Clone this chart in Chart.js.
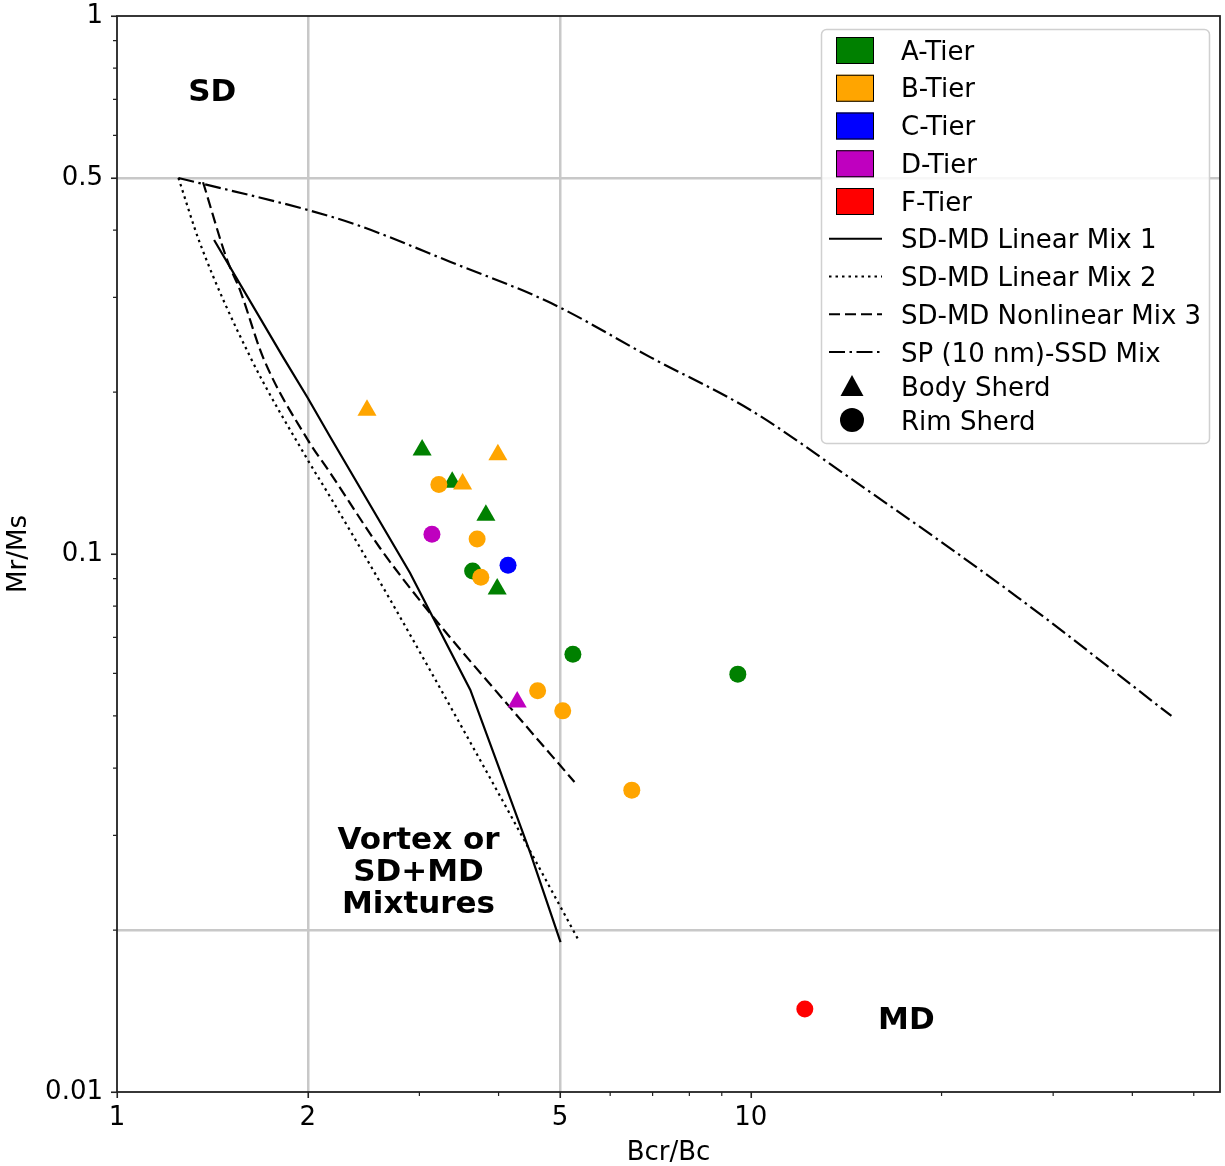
<!DOCTYPE html>
<html>
<head>
<meta charset="utf-8">
<title>Day plot</title>
<script src="https://cdn.jsdelivr.net/npm/chart.js@4.4.0/dist/chart.umd.min.js"></script>
<style>
  html, body { margin: 0; padding: 0; background: #fff; }
  #wrap { width: 1225px; height: 1166px; }
</style>
</head>
<body>
<div id="wrap"><canvas id="dayPlot" width="1225" height="1166"></canvas></div>
<script>
// values: x = Bcr/Bc, y = Mr/Ms
const tierNames = ['A-Tier', 'B-Tier', 'C-Tier', 'D-Tier', 'F-Tier'];
const tierColors = ['#008000', '#ffa500', '#0000ff', '#bf00bf', '#ff0000'];

const aTierBody = [[3.03, 0.156], [3.38, 0.136], [3.82, 0.118], [3.98, 0.0861]];
const aTierRim = [[3.64, 0.093], [5.24, 0.0651], [9.54, 0.0598]];
const bTierBody = [[2.48, 0.185], [3.99, 0.153], [3.51, 0.135]];
const bTierRim = [[3.22, 0.1347], [3.70, 0.1066], [3.75, 0.0905], [4.61, 0.0557], [5.05, 0.0511], [6.49, 0.0364]];
const cTierRim = [[4.14, 0.0953]];
const dTierBody = [[4.28, 0.0531]];
const dTierRim = [[3.14, 0.1088]];
const fTierRim = [[12.17, 0.01426]];

const curveNames = ['SD-MD Linear Mix 1', 'SD-MD Linear Mix 2', 'SD-MD Nonlinear Mix 3', 'SP (10 nm)-SSD Mix'];
const mix1X = [1.423, 1.829, 2.0, 2.17, 2.90, 3.61, 4.49, 5.01];
const mix1Y = [0.3835, 0.232, 0.195, 0.165, 0.0922, 0.0559, 0.0278, 0.0190];
const mix2X = [1.25, 1.352, 1.623, 2.0, 2.17, 2.70, 3.52, 4.22, 5.33];
const mix2Y = [0.5, 0.378, 0.2323, 0.1495, 0.1276, 0.0821, 0.0471, 0.032, 0.0193];
const mix3X = [1.367, 1.492, 1.564, 1.70, 2.0, 2.17, 2.60, 3.09, 4.18, 5.27];
const mix3Y = [0.491, 0.352, 0.309, 0.232, 0.163, 0.1415, 0.1026, 0.0787, 0.0517, 0.0377];
const spX = [1.25, 2.0, 2.39, 3.36, 4.83, 6.95, 10.0, 14.4, 26.4, 46.1];
const spY = [0.5, 0.436, 0.409, 0.349, 0.293, 0.232, 0.185, 0.138, 0.083, 0.050];

const xMajorTicks = [1, 2, 5, 10];
const xTickLabels = ['1', '2', '5', '10'];
const xMinorTicks = [3, 4, 6, 7, 8, 9, 20, 30, 40, 50];
const yMajorTicks = [0.01, 0.1, 0.5, 1];
const yTickLabels = ['0.01', '0.1', '0.5', '1'];
const yMinorTicks = [0.02, 0.03, 0.04, 0.05, 0.06, 0.07, 0.08, 0.09, 0.2, 0.3, 0.4, 0.6, 0.7, 0.8, 0.9];
const refBcrBc = [2, 5];
const refMrMs = [0.5, 0.02];

const regionLabels = [
  { lines: ['SD'], x: 1.413, y: 0.729 },
  { lines: ['Vortex or', 'SD+MD', 'Mixtures'], x: 2.99, y: 0.0259 },
  { lines: ['MD'], x: 17.6, y: 0.01372 }
];

const FONT = 'DejaVu Sans';
Chart.defaults.font.family = FONT;
Chart.defaults.font.size = 26;
Chart.defaults.color = '#000';

const dashes = [[], [2.5, 4], [11, 5], [16, 4.5, 2.5, 4.5]];

function markers(pairs, tier, shape, order) {
  return {
    label: tierNames[tier] + ' ' + shape,
    data: pairs.map(([x, y]) => ({ x, y })),
    pointStyle: shape,
    pointRadius: shape === 'triangle' ? 11 : 8.5,
    backgroundColor: tierColors[tier],
    borderWidth: 0,
    order
  };
}

function curve(i, xs, ys, smooth) {
  return {
    label: curveNames[i],
    data: xs.map((x, k) => ({ x, y: ys[k] })),
    showLine: true,
    pointRadius: 0,
    borderColor: '#000',
    borderWidth: 2.2,
    borderDash: dashes[i],
    cubicInterpolationMode: smooth ? 'monotone' : 'default',
    tension: 0,
    order: 20
  };
}

const decorations = {
  id: 'decorations',
  afterDraw(chart) {
    const { ctx, chartArea: a, scales: { x, y } } = chart;
    ctx.save();

    // minor ticks
    ctx.strokeStyle = '#222';
    ctx.lineWidth = 1.2;
    ctx.beginPath();
    xMinorTicks.forEach(v => {
      const px = x.getPixelForValue(v);
      ctx.moveTo(px, a.bottom); ctx.lineTo(px, a.bottom + 4);
    });
    yMinorTicks.forEach(v => {
      const py = y.getPixelForValue(v);
      ctx.moveTo(a.left, py); ctx.lineTo(a.left - 4, py);
    });
    ctx.stroke();

    // spines
    ctx.lineWidth = 1.8;
    ctx.strokeRect(a.left, a.top, a.right - a.left, a.bottom - a.top);

    // region labels
    ctx.fillStyle = '#000';
    ctx.font = 'bold 31px ' + FONT;
    ctx.textAlign = 'center';
    ctx.textBaseline = 'alphabetic';
    regionLabels.forEach(r => {
      const cx = x.getPixelForValue(r.x);
      const cy = y.getPixelForValue(r.y);
      const n = r.lines.length;
      r.lines.forEach((t, k) => {
        ctx.fillText(t, cx, cy + (k - (n - 1) / 2) * 32 + 11);
      });
    });

    // legend
    const lx = 821, ly = 29, lw = 388, lh = 414;
    ctx.beginPath();
    ctx.roundRect(lx + 0.5, ly + 0.5, lw, lh, 5);
    ctx.fillStyle = 'rgba(255,255,255,0.85)';
    ctx.fill();
    ctx.strokeStyle = '#d0d0d0';
    ctx.lineWidth = 1.5;
    ctx.stroke();

    ctx.font = '26px ' + FONT;
    ctx.textAlign = 'left';
    const textX = 901;
    const label = (t, ry) => { ctx.fillStyle = '#000'; ctx.fillText(t, textX, ry + 9.5); };
    const step = 37.75;

    tierNames.forEach((t, i) => {
      const ry = 50 + i * step;
      ctx.fillStyle = tierColors[i];
      ctx.fillRect(836, ry - 13, 38, 27);
      ctx.strokeStyle = '#000';
      ctx.lineWidth = 1;
      ctx.strokeRect(836.5, ry - 12.5, 37, 26);
      label(t, ry);
    });
    curveNames.forEach((t, i) => {
      const ry = 50 + (i + 5) * step;
      ctx.beginPath();
      ctx.setLineDash(dashes[i]);
      ctx.strokeStyle = '#000';
      ctx.lineWidth = 2.2;
      ctx.moveTo(829, ry); ctx.lineTo(882, ry);
      ctx.stroke();
      ctx.setLineDash([]);
      label(t, ry);
    });
    // shape entries
    ctx.fillStyle = '#000';
    ctx.beginPath();
    ctx.moveTo(852, 375); ctx.lineTo(840.5, 396); ctx.lineTo(863.5, 396);
    ctx.closePath();
    ctx.fill();
    label('Body Sherd', 386);
    ctx.beginPath();
    ctx.arc(852, 420, 12, 0, Math.PI * 2);
    ctx.fillStyle = '#000';
    ctx.fill();
    label('Rim Sherd', 420);

    ctx.restore();
  }
};

const allXTicks = [...xMajorTicks, ...xMinorTicks].sort((p, q) => p - q);
const allYTicks = [...yMajorTicks, ...yMinorTicks].sort((p, q) => p - q);

new Chart(document.getElementById('dayPlot'), {
  type: 'scatter',
  data: {
    datasets: [
      markers(bTierBody, 1, 'triangle', 1),
      markers(bTierRim, 1, 'circle', 2),
      markers(aTierBody, 0, 'triangle', 3),
      markers(aTierRim, 0, 'circle', 4),
      markers(cTierRim, 2, 'circle', 5),
      markers(dTierBody, 3, 'triangle', 6),
      markers(dTierRim, 3, 'circle', 7),
      markers(fTierRim, 4, 'circle', 8),
      curve(0, mix1X, mix1Y, false),
      curve(1, mix2X, mix2Y, true),
      curve(2, mix3X, mix3Y, true),
      curve(3, spX, spY, true)
    ]
  },
  options: {
    responsive: false,
    animation: false,
    events: [],
    layout: { autoPadding: false, padding: { left: 0, right: 5, top: 16, bottom: 0 } },
    plugins: { legend: { display: false }, tooltip: { enabled: false } },
    scales: {
      x: {
        type: 'logarithmic',
        min: 1,
        max: 55,
        afterBuildTicks: s => { s.ticks = allXTicks.map(v => ({ value: v })); },
        afterFit: s => { s.height = 74; s.paddingLeft = 0; s.paddingRight = 0; },
        ticks: {
          autoSkip: false,
          maxRotation: 0,
          padding: 5,
          color: '#000',
          callback: v => { const i = xMajorTicks.indexOf(v); return i >= 0 ? xTickLabels[i] : ''; }
        },
        grid: {
          color: c => (c.tick && refBcrBc.includes(c.tick.value)) ? '#c8c8c8' : 'rgba(0,0,0,0)',
          lineWidth: 2.5,
          tickLength: 6,
          tickWidth: 1.6,
          tickColor: c => (c.tick && xMajorTicks.includes(c.tick.value)) ? '#222' : 'rgba(0,0,0,0)'
        },
        border: { display: false },
        title: { display: true, text: 'Bcr/Bc', font: { size: 26, lineHeight: 1 }, padding: { top: 0, bottom: 0 } }
      },
      y: {
        type: 'logarithmic',
        min: 0.01,
        max: 1,
        afterBuildTicks: s => { s.ticks = allYTicks.map(v => ({ value: v })); },
        afterFit: s => { s.width = 117; s.paddingTop = 0; s.paddingBottom = 0; },
        ticks: {
          autoSkip: false,
          padding: 8,
          color: '#000',
          callback: v => { const i = yMajorTicks.indexOf(v); return i >= 0 ? yTickLabels[i] : ''; }
        },
        grid: {
          color: c => (c.tick && refMrMs.includes(c.tick.value)) ? '#c8c8c8' : 'rgba(0,0,0,0)',
          lineWidth: 2.5,
          tickLength: 6,
          tickWidth: 1.6,
          tickColor: c => (c.tick && yMajorTicks.includes(c.tick.value)) ? '#222' : 'rgba(0,0,0,0)'
        },
        border: { display: false },
        title: { display: true, text: 'Mr/Ms', font: { size: 26, lineHeight: 1 }, padding: { top: 6, bottom: 0 } }
      }
    }
  },
  plugins: [decorations]
});
</script>
</body>
</html>
